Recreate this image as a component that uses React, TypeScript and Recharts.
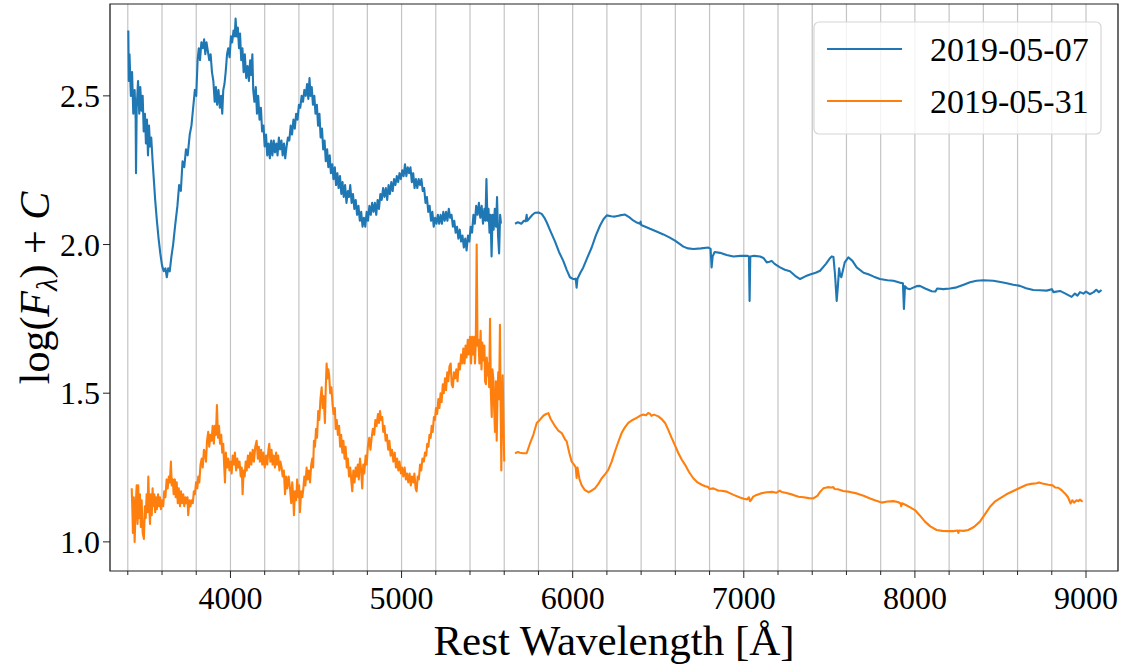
import { LineChart, Line, XAxis, YAxis, CartesianGrid, ReferenceArea } from "recharts";

// [wavelength (Å), log flux + C]
const blueBlue = [
  [3403, 2.72], [3406, 2.55], [3410, 2.64], [3418, 2.5], [3425, 2.58], [3432, 2.44], [3440, 2.52], [3446, 2.42], [3448, 2.24], [3452, 2.46],
  [3460, 2.55], [3467, 2.44], [3473, 2.53], [3480, 2.45], [3487, 2.5], [3493, 2.38], [3500, 2.44], [3506, 2.34], [3512, 2.42], [3518, 2.3],
  [3524, 2.4], [3530, 2.33], [3537, 2.36], [3545, 2.28], [3552, 2.22], [3560, 2.15], [3570, 2.08], [3580, 2.02], [3590, 1.97], [3600, 1.93],
  [3610, 1.91], [3620, 1.92], [3628, 1.89], [3636, 1.92], [3645, 1.91], [3655, 1.96], [3665, 2.0], [3676, 2.06], [3690, 2.13], [3700, 2.2],
  [3710, 2.18], [3720, 2.28], [3730, 2.26], [3740, 2.32], [3750, 2.3], [3762, 2.37], [3772, 2.4], [3782, 2.46], [3792, 2.52], [3800, 2.5],
  [3808, 2.62], [3815, 2.66], [3822, 2.62], [3830, 2.68], [3838, 2.66], [3846, 2.69], [3853, 2.64], [3860, 2.68], [3868, 2.65], [3876, 2.62],
  [3884, 2.64], [3892, 2.58], [3900, 2.55], [3908, 2.48], [3915, 2.53], [3922, 2.47], [3930, 2.52], [3938, 2.46], [3945, 2.5], [3952, 2.44],
  [3958, 2.52], [3965, 2.54], [3972, 2.58], [3980, 2.64], [3987, 2.66], [3995, 2.63], [4003, 2.7], [4010, 2.68], [4018, 2.72], [4025, 2.7],
  [4030, 2.76], [4036, 2.7], [4043, 2.73], [4050, 2.66], [4056, 2.71], [4063, 2.62], [4070, 2.66], [4077, 2.58], [4084, 2.64], [4092, 2.56],
  [4100, 2.6], [4108, 2.55], [4115, 2.62], [4122, 2.57], [4128, 2.64], [4133, 2.52], [4140, 2.48], [4148, 2.53], [4155, 2.44], [4162, 2.5],
  [4170, 2.42], [4178, 2.46], [4185, 2.38], [4193, 2.4], [4200, 2.33], [4208, 2.37], [4215, 2.3], [4223, 2.34], [4230, 2.29], [4238, 2.35],
  [4245, 2.3], [4253, 2.35], [4260, 2.31], [4268, 2.34], [4275, 2.3], [4283, 2.36], [4290, 2.32], [4298, 2.35], [4305, 2.3], [4313, 2.34],
  [4320, 2.29], [4328, 2.33], [4336, 2.36], [4344, 2.35], [4352, 2.4], [4360, 2.37], [4368, 2.42], [4376, 2.39], [4384, 2.44], [4392, 2.42],
  [4400, 2.47], [4408, 2.46], [4416, 2.5], [4424, 2.48], [4432, 2.52], [4440, 2.5], [4448, 2.54], [4455, 2.49], [4462, 2.56], [4468, 2.5],
  [4475, 2.53], [4482, 2.47], [4490, 2.5], [4497, 2.44], [4505, 2.47], [4512, 2.4], [4520, 2.44], [4527, 2.36], [4535, 2.39], [4542, 2.32],
  [4550, 2.35], [4557, 2.28], [4565, 2.32], [4572, 2.26], [4580, 2.3], [4587, 2.24], [4595, 2.27], [4602, 2.22], [4610, 2.26], [4617, 2.2],
  [4625, 2.24], [4632, 2.19], [4640, 2.23], [4648, 2.17], [4655, 2.21], [4662, 2.16], [4670, 2.2], [4678, 2.14], [4686, 2.18], [4693, 2.16],
  [4700, 2.2], [4708, 2.14], [4716, 2.17], [4724, 2.12], [4732, 2.15], [4740, 2.1], [4748, 2.13], [4756, 2.08], [4764, 2.11], [4772, 2.06],
  [4780, 2.09], [4788, 2.06], [4796, 2.11], [4804, 2.08], [4812, 2.13], [4820, 2.1], [4828, 2.14], [4836, 2.11], [4844, 2.14], [4852, 2.1],
  [4860, 2.15], [4868, 2.12], [4876, 2.17], [4884, 2.15], [4892, 2.19], [4900, 2.16], [4908, 2.19], [4916, 2.15], [4924, 2.2], [4932, 2.17],
  [4940, 2.21], [4948, 2.18], [4956, 2.22], [4964, 2.2], [4972, 2.23], [4980, 2.21], [4988, 2.24], [4996, 2.22], [5004, 2.25], [5012, 2.23],
  [5020, 2.27], [5028, 2.23], [5036, 2.26], [5044, 2.24], [5052, 2.26], [5060, 2.21], [5068, 2.24], [5076, 2.19], [5084, 2.22], [5092, 2.19],
  [5100, 2.22], [5108, 2.2], [5116, 2.22], [5124, 2.18], [5132, 2.19], [5140, 2.14], [5148, 2.16], [5156, 2.11], [5164, 2.13], [5172, 2.08],
  [5180, 2.11], [5188, 2.06], [5196, 2.09], [5204, 2.07], [5212, 2.1], [5220, 2.07], [5228, 2.1], [5236, 2.07], [5244, 2.11], [5252, 2.08],
  [5260, 2.11], [5268, 2.08], [5276, 2.12], [5284, 2.09], [5292, 2.1], [5300, 2.06], [5308, 2.08], [5316, 2.04], [5324, 2.06], [5332, 2.02],
  [5340, 2.05], [5348, 2.01], [5356, 2.03], [5364, 1.99], [5372, 2.02], [5380, 1.98], [5388, 2.03], [5396, 2.01], [5404, 2.06], [5412, 2.04],
  [5420, 2.1], [5428, 2.07], [5436, 2.13], [5444, 2.1], [5452, 2.14], [5460, 2.09], [5468, 2.13], [5476, 2.07], [5484, 2.12], [5490, 2.08],
  [5496, 2.22], [5502, 2.08], [5508, 2.12], [5514, 2.04], [5520, 2.1], [5526, 1.96], [5532, 2.1], [5538, 2.05], [5545, 2.12], [5552, 2.06],
  [5558, 2.16], [5564, 2.03], [5570, 1.97], [5576, 2.1], [5581, 2.07],
];

const blueRed = [
  [5663, 2.07], [5680, 2.075], [5700, 2.07], [5715, 2.08], [5725, 2.078], [5731, 2.1], [5735, 2.08], [5750, 2.09], [5765, 2.1], [5780, 2.107],
  [5800, 2.108], [5819, 2.103], [5835, 2.09], [5848, 2.075], [5870, 2.045], [5897, 2.01], [5920, 1.975], [5945, 1.945], [5965, 1.915], [5984, 1.89],
  [6000, 1.885], [6013, 1.883], [6018, 1.885], [6023, 1.855], [6028, 1.885], [6045, 1.905], [6062, 1.923], [6085, 1.955], [6111, 1.99], [6135, 2.03],
  [6160, 2.064], [6180, 2.085], [6199, 2.098], [6225, 2.095], [6247, 2.094], [6275, 2.098], [6306, 2.101], [6330, 2.092], [6354, 2.081], [6375, 2.074],
  [6393, 2.07], [6397, 2.077], [6400, 2.066], [6425, 2.06], [6452, 2.053], [6490, 2.044], [6530, 2.034], [6565, 2.024], [6598, 2.013], [6625, 2.002],
  [6647, 1.993], [6675, 1.987], [6705, 1.985], [6750, 1.987], [6793, 1.99], [6806, 1.985], [6812, 1.923], [6818, 1.96], [6830, 1.975], [6861, 1.972],
  [6900, 1.965], [6939, 1.96], [6980, 1.962], [7020, 1.962], [7030, 1.96], [7034, 1.81], [7038, 1.96], [7060, 1.962], [7095, 1.96], [7115, 1.955],
  [7134, 1.94], [7150, 1.942], [7163, 1.945], [7180, 1.935], [7212, 1.923], [7240, 1.915], [7270, 1.91], [7300, 1.895], [7329, 1.884], [7360, 1.893],
  [7387, 1.899], [7420, 1.905], [7446, 1.912], [7480, 1.935], [7505, 1.955], [7514, 1.96], [7524, 1.958], [7533, 1.9], [7543, 1.81], [7550, 1.86],
  [7557, 1.92], [7564, 1.895], [7570, 1.89], [7590, 1.94], [7611, 1.957], [7635, 1.945], [7660, 1.923], [7700, 1.905], [7728, 1.9], [7760, 1.892],
  [7796, 1.884], [7840, 1.88], [7874, 1.878], [7910, 1.872], [7930, 1.87], [7936, 1.783], [7942, 1.86], [7955, 1.852], [7971, 1.85], [7990, 1.855],
  [8010, 1.86], [8029, 1.861], [8060, 1.852], [8098, 1.843], [8120, 1.842], [8130, 1.852], [8166, 1.85], [8205, 1.852], [8244, 1.856], [8285, 1.865],
  [8322, 1.873], [8360, 1.878], [8400, 1.88], [8430, 1.879], [8458, 1.878], [8500, 1.874], [8537, 1.87], [8575, 1.865], [8614, 1.861], [8650, 1.853],
  [8692, 1.847], [8730, 1.846], [8770, 1.845], [8800, 1.85], [8810, 1.84], [8848, 1.844], [8880, 1.835], [8916, 1.824], [8935, 1.835], [8950, 1.828],
  [8965, 1.84], [8985, 1.835], [9000, 1.842], [9023, 1.833], [9045, 1.84], [9060, 1.848], [9075, 1.84], [9091, 1.847],
];

const orangeBlue = [
  [3423, 1.18], [3427, 1.1], [3430, 1.03], [3435, 1.15], [3440, 1.0], [3446, 1.12], [3452, 1.19], [3457, 1.06], [3461, 1.19], [3466, 1.08],
  [3471, 1.16], [3476, 1.05], [3481, 1.14], [3487, 1.03], [3494, 1.01], [3500, 1.12], [3505, 1.08], [3510, 1.16], [3515, 1.1], [3520, 1.22],
  [3525, 1.12], [3530, 1.06], [3534, 1.16], [3540, 1.09], [3545, 1.18], [3549, 1.12], [3555, 1.16], [3560, 1.1], [3565, 1.15], [3570, 1.11],
  [3577, 1.16], [3583, 1.12], [3588, 1.15], [3594, 1.11], [3600, 1.14], [3607, 1.12], [3613, 1.17], [3620, 1.15], [3627, 1.21], [3633, 1.18],
  [3640, 1.22], [3646, 1.2], [3652, 1.27], [3657, 1.19], [3663, 1.21], [3668, 1.16], [3675, 1.21], [3680, 1.15], [3686, 1.2], [3692, 1.13],
  [3698, 1.18], [3705, 1.12], [3711, 1.17], [3717, 1.13], [3724, 1.16], [3730, 1.12], [3737, 1.15], [3743, 1.13], [3749, 1.15], [3753, 1.09],
  [3760, 1.14], [3766, 1.12], [3773, 1.14], [3780, 1.13], [3786, 1.17], [3792, 1.16], [3799, 1.2], [3806, 1.18], [3812, 1.22], [3818, 1.2],
  [3825, 1.26], [3832, 1.28], [3838, 1.25], [3845, 1.31], [3851, 1.3], [3857, 1.27], [3863, 1.34], [3870, 1.37], [3876, 1.32], [3883, 1.36],
  [3890, 1.34], [3896, 1.39], [3903, 1.33], [3909, 1.39], [3915, 1.36], [3921, 1.46], [3927, 1.35], [3933, 1.39], [3939, 1.33], [3946, 1.36],
  [3952, 1.3], [3958, 1.33], [3963, 1.26], [3968, 1.2], [3973, 1.3], [3980, 1.25], [3987, 1.28], [3994, 1.24], [4000, 1.27], [4007, 1.23],
  [4013, 1.29], [4020, 1.26], [4026, 1.3], [4033, 1.24], [4040, 1.28], [4046, 1.25], [4053, 1.27], [4060, 1.22], [4066, 1.25], [4071, 1.16],
  [4077, 1.24], [4083, 1.22], [4089, 1.27], [4095, 1.24], [4102, 1.29], [4108, 1.25], [4115, 1.3], [4122, 1.26], [4130, 1.31], [4137, 1.27],
  [4145, 1.32], [4153, 1.34], [4160, 1.28], [4166, 1.32], [4172, 1.27], [4179, 1.31], [4186, 1.26], [4193, 1.3], [4200, 1.25], [4208, 1.29],
  [4215, 1.26], [4222, 1.31], [4227, 1.33], [4233, 1.27], [4240, 1.31], [4246, 1.26], [4253, 1.29], [4260, 1.25], [4267, 1.3], [4273, 1.26],
  [4279, 1.29], [4286, 1.24], [4292, 1.27], [4299, 1.25], [4305, 1.22], [4312, 1.24], [4319, 1.16], [4325, 1.22], [4332, 1.18], [4340, 1.22],
  [4348, 1.18], [4355, 1.13], [4361, 1.2], [4366, 1.16], [4371, 1.09], [4377, 1.17], [4384, 1.14], [4390, 1.21], [4396, 1.15], [4401, 1.19],
  [4406, 1.1], [4413, 1.17], [4420, 1.15], [4426, 1.18], [4432, 1.22], [4438, 1.19], [4445, 1.25], [4451, 1.21], [4458, 1.24], [4465, 1.2],
  [4472, 1.26], [4478, 1.28], [4483, 1.25], [4488, 1.34], [4494, 1.32], [4500, 1.38], [4506, 1.35], [4513, 1.44], [4519, 1.41], [4526, 1.48],
  [4533, 1.52], [4539, 1.45], [4545, 1.49], [4552, 1.4], [4557, 1.52], [4562, 1.6], [4567, 1.55], [4572, 1.58], [4577, 1.56], [4583, 1.5],
  [4590, 1.52], [4597, 1.46], [4603, 1.43], [4610, 1.45], [4615, 1.38], [4621, 1.41], [4628, 1.36], [4635, 1.39], [4641, 1.32], [4647, 1.36],
  [4654, 1.3], [4660, 1.34], [4667, 1.28], [4673, 1.32], [4680, 1.25], [4686, 1.28], [4693, 1.22], [4700, 1.25], [4707, 1.2], [4712, 1.17],
  [4718, 1.24], [4725, 1.2], [4732, 1.25], [4737, 1.22], [4744, 1.26], [4750, 1.21], [4757, 1.28], [4764, 1.24], [4770, 1.18], [4776, 1.26],
  [4782, 1.23], [4790, 1.29], [4796, 1.26], [4803, 1.32], [4811, 1.35], [4818, 1.31], [4825, 1.35], [4832, 1.38], [4840, 1.36], [4847, 1.41],
  [4854, 1.39], [4862, 1.43], [4868, 1.4], [4874, 1.44], [4880, 1.41], [4887, 1.42], [4893, 1.37], [4900, 1.39], [4907, 1.34], [4914, 1.36],
  [4922, 1.31], [4929, 1.34], [4936, 1.29], [4944, 1.31], [4952, 1.27], [4960, 1.3], [4967, 1.25], [4974, 1.28], [4981, 1.24], [4988, 1.27],
  [4996, 1.23], [5003, 1.25], [5010, 1.22], [5018, 1.25], [5025, 1.21], [5032, 1.23], [5039, 1.2], [5047, 1.23], [5054, 1.19], [5061, 1.22],
  [5069, 1.2], [5075, 1.23], [5082, 1.18], [5088, 1.17], [5094, 1.22], [5101, 1.21], [5108, 1.26], [5115, 1.24], [5122, 1.28], [5130, 1.27],
  [5137, 1.3], [5144, 1.29], [5150, 1.33], [5157, 1.32], [5163, 1.36], [5170, 1.35], [5176, 1.39], [5182, 1.37], [5189, 1.42], [5195, 1.41],
  [5201, 1.45], [5208, 1.43], [5215, 1.48], [5221, 1.45], [5228, 1.5], [5234, 1.47], [5241, 1.53], [5247, 1.5], [5254, 1.55], [5260, 1.51],
  [5267, 1.57], [5273, 1.54], [5280, 1.59], [5287, 1.6], [5293, 1.53], [5300, 1.52], [5306, 1.57], [5313, 1.55], [5320, 1.58], [5327, 1.54],
  [5334, 1.6], [5341, 1.58], [5348, 1.63], [5355, 1.6], [5361, 1.65], [5368, 1.6], [5374, 1.66], [5380, 1.62], [5387, 1.68], [5393, 1.63],
  [5400, 1.69], [5406, 1.6], [5412, 1.69], [5418, 1.63], [5424, 1.69], [5429, 1.6], [5434, 1.68], [5439, 2.0], [5444, 1.66], [5449, 1.68],
  [5455, 1.6], [5462, 1.71], [5467, 1.58], [5472, 1.67], [5478, 1.61], [5484, 1.66], [5488, 1.54], [5493, 1.53], [5498, 1.62], [5503, 1.56],
  [5507, 1.6], [5512, 1.52], [5517, 1.75], [5522, 1.5], [5527, 1.42], [5531, 1.58], [5536, 1.55], [5541, 1.45], [5546, 1.37], [5551, 1.54],
  [5556, 1.34], [5561, 1.5], [5565, 1.57], [5570, 1.48], [5575, 1.73], [5579, 1.46], [5583, 1.24], [5587, 1.45], [5591, 1.56], [5596, 1.4],
  [5600, 1.27],
];

const orangeRed = [
  [5663, 1.298], [5680, 1.302], [5692, 1.3], [5710, 1.298], [5731, 1.298], [5750, 1.33], [5770, 1.36], [5790, 1.4], [5809, 1.411], [5830, 1.425],
  [5845, 1.43], [5858, 1.433], [5870, 1.415], [5897, 1.389], [5916, 1.374], [5936, 1.366], [5955, 1.345], [5965, 1.338], [5980, 1.3], [5994, 1.27],
  [6010, 1.258], [6018, 1.25], [6023, 1.215], [6028, 1.25], [6040, 1.21], [6053, 1.19], [6070, 1.175], [6092, 1.167], [6110, 1.172], [6130, 1.18],
  [6150, 1.195], [6170, 1.214], [6190, 1.228], [6208, 1.242], [6228, 1.27], [6247, 1.304], [6266, 1.335], [6286, 1.366], [6305, 1.385], [6325, 1.4],
  [6350, 1.41], [6374, 1.417], [6393, 1.424], [6413, 1.428], [6430, 1.426], [6440, 1.433], [6452, 1.431], [6460, 1.424], [6475, 1.428], [6501, 1.422],
  [6520, 1.413], [6540, 1.4], [6560, 1.375], [6579, 1.349], [6600, 1.322], [6618, 1.298], [6637, 1.277], [6657, 1.259], [6680, 1.235], [6705, 1.214],
  [6730, 1.2], [6754, 1.192], [6775, 1.187], [6790, 1.185], [6800, 1.178], [6822, 1.18], [6850, 1.173], [6870, 1.172], [6900, 1.169], [6940, 1.158],
  [6978, 1.149], [7000, 1.145], [7020, 1.143], [7030, 1.15], [7036, 1.137], [7042, 1.14], [7055, 1.152], [7075, 1.158], [7100, 1.163], [7134, 1.167],
  [7170, 1.168], [7190, 1.165], [7210, 1.172], [7221, 1.168], [7250, 1.164], [7289, 1.158], [7320, 1.152], [7350, 1.15], [7380, 1.147], [7406, 1.146],
  [7430, 1.155], [7446, 1.168], [7465, 1.18], [7490, 1.184], [7510, 1.183], [7523, 1.184], [7530, 1.178], [7550, 1.177], [7581, 1.171], [7620, 1.168],
  [7660, 1.163], [7700, 1.155], [7738, 1.146], [7770, 1.139], [7806, 1.132], [7840, 1.136], [7874, 1.137], [7900, 1.134], [7915, 1.13], [7920, 1.12],
  [7925, 1.13], [7950, 1.123], [7975, 1.115], [8000, 1.107], [8030, 1.088], [8059, 1.068], [8090, 1.052], [8127, 1.04], [8160, 1.037], [8195, 1.036],
  [8225, 1.036], [8250, 1.038], [8254, 1.03], [8258, 1.038], [8285, 1.037], [8312, 1.04], [8345, 1.05], [8380, 1.068], [8410, 1.093], [8439, 1.118],
  [8467, 1.135], [8497, 1.146], [8535, 1.16], [8575, 1.171], [8615, 1.182], [8653, 1.192], [8680, 1.195], [8712, 1.197], [8725, 1.2], [8745, 1.196],
  [8780, 1.192], [8805, 1.19], [8820, 1.183], [8838, 1.182], [8855, 1.175], [8877, 1.163], [8895, 1.15], [8910, 1.129], [8920, 1.14], [8930, 1.132],
  [8945, 1.14], [8955, 1.137], [8965, 1.142], [8980, 1.135],
];

const xTicks = [3400, 3600, 3800, 4000, 4200, 4400, 4600, 4800, 5000, 5200, 5400, 5600, 5800, 6000, 6200, 6400, 6600, 6800, 7000, 7200, 7400, 7600, 7800, 8000, 8200, 8400, 8600, 8800, 9000];
const yTicks = [1.0, 1.5, 2.0, 2.5];
const seriesNames = ["2019-05-07", "2019-05-31"];
const colors = ["#1f77b4", "#ff7f0e"];

const FONT = "'Liberation Serif', 'DejaVu Serif', serif";
const X_DOMAIN = [3296, 9187];
const Y_DOMAIN = [0.902, 2.809];

const toPoints = (pairs: number[][]) => pairs.map(([w, f]) => ({ w, f }));

function WaveTick({ x, y, payload }: any) {
  const major = payload.value % 1000 === 0;
  return (
    <g>
      <line x1={x} x2={x} y1={y} y2={y + (major ? 7 : 4)} stroke="#222" strokeWidth={1} />
      {major && (
        <text x={x} y={y + 38} textAnchor="middle" fontSize={32} fontFamily={FONT} fill="#000">
          {payload.value}
        </text>
      )}
    </g>
  );
}

function FluxTick({ x, y, payload }: any) {
  return (
    <g>
      <line x1={x - 7} x2={x} y1={y} y2={y} stroke="#222" strokeWidth={1} />
      <text x={x - 10} y={y + 11} textAnchor="end" fontSize={32} fontFamily={FONT} fill="#000">
        {payload.value.toFixed(1)}
      </text>
    </g>
  );
}

const yTitle = () => (
  <text x={49} y={288} transform="rotate(-90 49 288)" textAnchor="middle" fontSize={42} fontFamily={FONT} fill="#000">
    log(<tspan fontStyle="italic">F</tspan>
    <tspan fontStyle="italic" fontSize={29} dy={8}>λ</tspan>
    <tspan dy={-8}>{") + "}</tspan>
    <tspan fontStyle="italic">C</tspan>
  </text>
);

export default function App() {
  const segments = [
    { data: toPoints(blueBlue), color: colors[0] },
    { data: toPoints(blueRed), color: colors[0] },
    { data: toPoints(orangeBlue), color: colors[1] },
    { data: toPoints(orangeRed), color: colors[1] },
  ];

  return (
    <div style={{ position: "absolute", left: 0, top: 0, width: 1123, height: 665, background: "#fff", fontFamily: FONT }}>
      <LineChart width={1123} height={665} margin={{ top: 4, right: 5, bottom: 0, left: 0 }}>
        <CartesianGrid horizontal={false} stroke="#c4c4c4" strokeWidth={1.2} />
        <XAxis
          dataKey="w"
          type="number"
          domain={X_DOMAIN}
          allowDataOverflow
          ticks={xTicks}
          interval={0}
          height={94}
          axisLine={false}
          tickLine={false}
          tickSize={0}
          tickMargin={0}
          tick={<WaveTick />}
          label={{ value: "Rest Wavelength [Å]", position: "insideBottom", offset: 10, fontSize: 43, fill: "#000", fontFamily: FONT }}
        />
        <YAxis
          dataKey="f"
          type="number"
          domain={Y_DOMAIN}
          allowDataOverflow
          ticks={yTicks}
          interval={0}
          width={110}
          axisLine={false}
          tickLine={false}
          tickSize={0}
          tickMargin={0}
          tick={<FluxTick />}
          label={{ content: yTitle }}
        />
        {segments.map((s, i) => (
          <Line
            key={i}
            data={s.data}
            dataKey="f"
            type="linear"
            stroke={s.color}
            strokeWidth={2.1}
            strokeLinejoin="round"
            dot={false}
            activeDot={false}
            isAnimationActive={false}
          />
        ))}
        <ReferenceArea x1={X_DOMAIN[0]} x2={X_DOMAIN[1]} y1={Y_DOMAIN[0]} y2={Y_DOMAIN[1]} fill="none" stroke="#222" strokeWidth={1.2} ifOverflow="visible" />
      </LineChart>
      <svg width={1123} height={665} style={{ position: "absolute", left: 0, top: 0, pointerEvents: "none" }}>
        <rect x={814} y={22} width={287} height={112} rx={5} fill="#fff" fillOpacity={0.8} stroke="#d6d6d6" strokeWidth={1.2} />
        {seriesNames.map((name, i) => (
          <g key={name}>
            <line x1={827} x2={902} y1={49 + i * 52} y2={49 + i * 52} stroke={colors[i]} strokeWidth={2} />
            <text x={930} y={61 + i * 52} fontSize={34} fontFamily={FONT} fill="#000">
              {name}
            </text>
          </g>
        ))}
      </svg>
    </div>
  );
}
